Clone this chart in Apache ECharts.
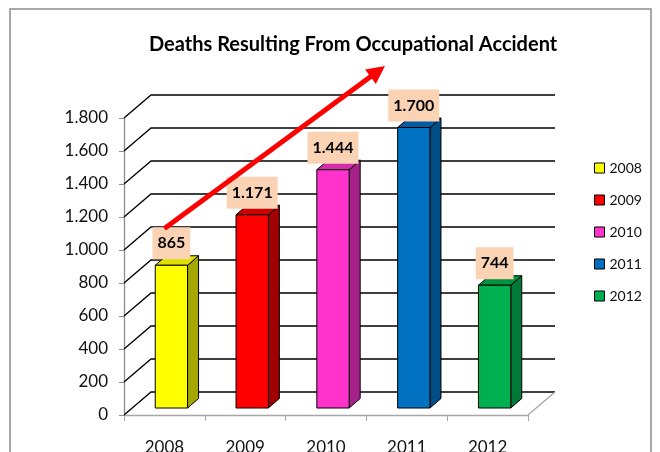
<!DOCTYPE html>
<html>
<head>
<meta charset="utf-8">
<script src="https://cdn.jsdelivr.net/npm/echarts@6/dist/echarts.min.js"></script>
<style>
  html, body { margin: 0; padding: 0; background: #fff; }
  #main { width: 660px; height: 452px; }
</style>
</head>
<body>
<div id="main"></div>
<script>
var years = ['2008', '2009', '2010', '2011', '2012'];
var deaths = [865, 1171, 1444, 1700, 744];
var yTicks = [0, 200, 400, 600, 800, 1000, 1200, 1400, 1600, 1800];
// trend arrow, x in category units (0 = 2008), y in deaths
var arrowFrom = [0, 1130];
var arrowTo = [2.73, 2115];

var frontColors = ['#FFFF00', '#FF0000', '#FF33CC', '#0070C0', '#00B050'];
var sideColors = ['#A6A600', '#A00000', '#A6218A', '#004C84', '#007A38'];
var topColors = ['#E0E000', '#CC0000', '#D62BAA', '#005BA0', '#00923F'];

var FONT = 'Lato';
var WALL_DX = 27, WALL_DY = -23;   // depth of the back wall
var BAR_OX = 7, BAR_OY = -7;       // bar sits a little inside the box
var BAR_DX = 11, BAR_DY = -9.5;    // bar depth

function fmt(v) {
  if (v >= 1000) {
    return Math.floor(v / 1000) + '.' + String(v % 1000).padStart(3, '0');
  }
  return String(v);
}

var chartDom = document.getElementById('main');
var myChart = echarts.init(chartDom);
var option;

function renderBar(params, api) {
  var i = Math.round(api.value(0));
  var p = api.coord([api.value(0), 0]);
  var q = api.coord([api.value(0), api.value(1)]);
  var band = api.size([1, 0])[0];
  var w = band * 0.4;
  var x0 = p[0] + BAR_OX - w / 2;
  var x1 = x0 + w;
  var yb = p[1] + BAR_OY;
  var yt = q[1] + BAR_OY;
  var edge = { stroke: '#000', lineWidth: 1 };
  return {
    type: 'group',
    children: [
      {
        type: 'polygon',
        shape: { points: [[x1, yb], [x1 + BAR_DX, yb + BAR_DY], [x1 + BAR_DX, yt + BAR_DY], [x1, yt]] },
        style: Object.assign({ fill: sideColors[i] }, edge)
      },
      {
        type: 'polygon',
        shape: { points: [[x0, yt], [x1, yt], [x1 + BAR_DX, yt + BAR_DY], [x0 + BAR_DX, yt + BAR_DY]] },
        style: Object.assign({ fill: topColors[i] }, edge)
      },
      {
        type: 'polygon',
        shape: { points: [[x0, yb], [x1, yb], [x1, yt], [x0, yt]] },
        style: Object.assign({ fill: frontColors[i] }, edge)
      },
      {
        type: 'text',
        z2: 10,
        style: {
          text: fmt(api.value(1)),
          x: x0 + w / 2,
          y: yt - 6,
          align: 'center',
          verticalAlign: 'bottom',
          font: 'bold 16px ' + FONT,
          fill: '#000',
          backgroundColor: '#FAD3B4',
          padding: [6, 5, 6, 5],
          lineHeight: 20
        }
      }
    ]
  };
}

function renderWall(params, api) {
  var v = api.value(0);
  var L = api.coord([-0.5, v]);
  var R = api.coord([4.5, v]);
  var children = [{
    type: 'polyline',
    shape: { points: [L, [L[0] + WALL_DX, L[1] + WALL_DY], [R[0] + WALL_DX, R[1] + WALL_DY]] },
    style: { stroke: '#000', lineWidth: 1.3, fill: null }
  }];
  if (v === 0) {
    children.push({
      type: 'line',
      shape: { x1: R[0], y1: R[1], x2: R[0] + WALL_DX, y2: R[1] + WALL_DY },
      style: { stroke: '#A6A6A6', lineWidth: 1.3 }
    });
  }
  return { type: 'group', children: children };
}

function renderArrow(params, api) {
  var a = api.coord([api.value(0), api.value(1)]);
  var b = api.coord([api.value(2), api.value(3)]);
  var dx = b[0] - a[0], dy = b[1] - a[1];
  var len = Math.sqrt(dx * dx + dy * dy);
  var ux = dx / len, uy = dy / len;
  var headLen = 18, headW = 9;
  var bx = b[0] - ux * headLen, by = b[1] - uy * headLen;
  return {
    type: 'group',
    children: [
      {
        type: 'line',
        shape: { x1: a[0], y1: a[1], x2: bx + ux * 2, y2: by + uy * 2 },
        style: { stroke: '#FF0000', lineWidth: 5 }
      },
      {
        type: 'polygon',
        shape: { points: [b, [bx - uy * headW, by + ux * headW], [bx + uy * headW, by - ux * headW]] },
        style: { fill: '#FF0000' }
      }
    ]
  };
}

var series = [{
  type: 'custom',
  name: 'walls',
  xAxisIndex: 1,
  yAxisIndex: 0,
  z: 1,
  silent: true,
  renderItem: renderWall,
  data: yTicks.map(function (v) { return [v]; }),
  encode: { y: 0 }
}];

years.forEach(function (y, i) {
  series.push({
    type: 'custom',
    name: y,
    xAxisIndex: 0,
    yAxisIndex: 0,
    z: 3,
    itemStyle: { color: frontColors[i] },
    renderItem: renderBar,
    data: [[i, deaths[i]]]
  });
});

series.push({
  type: 'custom',
  name: 'trend',
  xAxisIndex: 1,
  yAxisIndex: 0,
  z: 6,
  silent: true,
  renderItem: renderArrow,
  data: [[arrowFrom[0], arrowFrom[1], arrowTo[0], arrowTo[1]]],
  encode: { x: [0, 2], y: [1, 3] }
});

option = {
  animation: false,
  backgroundColor: '#fff',
  title: {
    text: 'Deaths Resulting From Occupational Accident',
    left: 144,
    top: 30,
    textStyle: { fontFamily: FONT, fontSize: 20, fontWeight: 'bold', color: '#000' }
  },
  graphic: [{
    type: 'rect',
    shape: { x: 10, y: 9, width: 641, height: 470 },
    style: { fill: null, stroke: '#8C8C8C', lineWidth: 1.5 },
    silent: true
  }],
  legend: {
    data: years,
    orient: 'vertical',
    left: 589,
    top: 156,
    itemWidth: 10,
    itemHeight: 10,
    itemGap: 18,
    icon: 'rect',
    itemStyle: { borderColor: '#000', borderWidth: 1 },
    textStyle: { fontFamily: FONT, fontSize: 14, color: '#111', lineHeight: 14 }
  },
  grid: { left: 124, right: 132, top: 118, bottom: 37, containLabel: false, outerBoundsMode: 'none' },
  xAxis: [
    {
      type: 'category',
      data: years,
      axisLine: { onZero: false, lineStyle: { color: '#A6A6A6', width: 1.3 } },
      axisTick: { show: true, length: 6, lineStyle: { color: '#A6A6A6' } },
      axisLabel: { fontFamily: FONT, fontSize: 17, color: '#111', margin: 24 },
      splitLine: { show: false }
    },
    {
      type: 'value',
      min: -0.5,
      max: 4.5,
      show: false
    }
  ],
  yAxis: {
    type: 'value',
    min: 0,
    max: 1800,
    interval: 200,
    axisLine: { show: true, onZero: false, lineStyle: { color: '#8C8C8C', width: 1.3 } },
    axisTick: { show: true, length: 5, lineStyle: { color: '#8C8C8C' } },
    axisLabel: { fontFamily: FONT, fontSize: 17, color: '#111', margin: 16, formatter: fmt },
    splitLine: { show: false }
  },
  series: series
};

option && myChart.setOption(option);
</script>
</body>
</html>
